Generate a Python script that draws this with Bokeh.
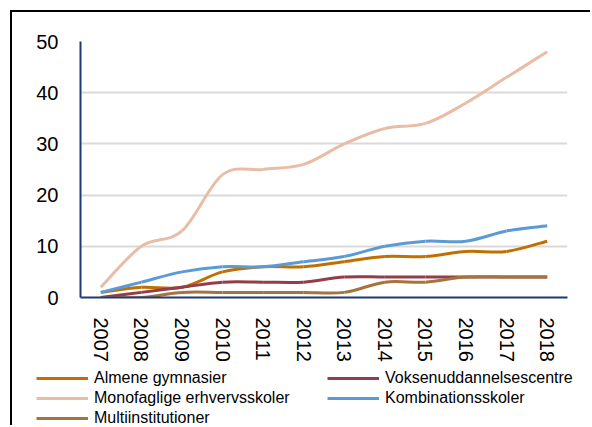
import math
import numpy as np
from bokeh.plotting import figure
from bokeh.models import Range1d, FixedTicker, Legend, LegendItem
from bokeh.embed import file_html
from bokeh.resources import INLINE

# ---- data ----
years = [2007, 2008, 2009, 2010, 2011, 2012, 2013, 2014, 2015, 2016, 2017, 2018]
almene = [1, 2, 2, 5, 6, 6, 7, 8, 8, 9, 9, 11]
voksen = [0, 1, 2, 3, 3, 3, 4, 4, 4, 4, 4, 4]
monofaglige = [2, 10, 13, 24, 25, 26, 30, 33, 34, 38, 43, 48]
kombination = [1, 3, 5, 6, 6, 7, 8, 10, 11, 11, 13, 14]
multi = [0, 0, 1, 1, 1, 1, 1, 3, 3, 4, 4, 4]
y_ticks = [0, 10, 20, 30, 40, 50]

series = [
    ("Almene gymnasier", almene, "#C07000"),
    ("Voksenuddannelsescentre", voksen, "#943C4C"),
    ("Monofaglige erhvervsskoler", monofaglige, "#E8BDA6"),
    ("Kombinationsskoler", kombination, "#5B9BD5"),
    ("Multiinstitutioner", multi, "#A5733D"),
]


def smooth_segments(xs, ys):
    """Bezier control points (Catmull-Rom style, like Excel smoothed lines)."""
    x = np.asarray(xs, float)
    y = np.asarray(ys, float)
    n = len(x) - 1
    xp = np.concatenate([[x[0]], x, [x[-1]]])
    yp = np.concatenate([[y[0]], y, [y[-1]]])
    return dict(
        x0=x[:-1], y0=y[:-1], x1=x[1:], y1=y[1:],
        cx0=x[:-1] + (xp[2:n + 2] - xp[0:n]) / 6.0,
        cy0=y[:-1] + (yp[2:n + 2] - yp[0:n]) / 6.0,
        cx1=x[1:] - (xp[3:n + 3] - xp[1:n + 1]) / 6.0,
        cy1=y[1:] - (yp[3:n + 3] - yp[1:n + 1]) / 6.0,
    )


BORDER = "2px solid black"
font = "Liberation Sans"

# ---------------- main chart ----------------
p = figure(width=580, height=352, output_backend="svg", toolbar_location=None,
           x_range=Range1d(years[0] - 0.5, years[-1] + 0.5),
           y_range=Range1d(0, 50),
           min_border_left=68, min_border_right=25,
           min_border_top=29, min_border_bottom=67)
p.outline_line_color = None
p.background_fill_color = "white"
p.border_fill_color = "white"
p.margin = (10, 0, 0, 10)
p.styles = {"border-left": BORDER, "border-top": BORDER}

p.xgrid.grid_line_color = None
p.ygrid.grid_line_color = "#D9D9D9"
p.ygrid.grid_line_width = 2
p.yaxis.ticker = FixedTicker(ticks=y_ticks)
p.xaxis.ticker = FixedTicker(ticks=years)
p.xaxis.major_label_overrides = {yr: str(yr) for yr in years}
p.xaxis.major_label_orientation = -math.pi / 2

for ax in (p.xaxis, p.yaxis):
    ax.axis_line_color = "#1F3A73"
    ax.axis_line_width = 2
    ax.major_tick_line_color = None
    ax.minor_tick_line_color = None
    ax.major_label_text_font = font
    ax.major_label_text_font_size = "20px"
    ax.major_label_text_color = "#000000"
p.yaxis.major_label_standoff = 16
p.xaxis.major_label_standoff = 14

for name, vals, color in series:
    p.bezier(source=smooth_segments(years, vals), x0="x0", y0="y0", x1="x1", y1="y1",
             cx0="cx0", cy0="cy0", cx1="cx1", cy1="cy1",
             line_color=color, line_width=3)

# ---------------- legend strip (separate root, so frames are not aligned) ----------------
lp = figure(width=580, height=63, output_backend="svg", toolbar_location=None,
            x_range=Range1d(0, 1), y_range=Range1d(0, 1),
            x_axis_type=None, y_axis_type=None,
            min_border_left=0, min_border_right=0, min_border_top=0, min_border_bottom=0)
lp.outline_line_color = None
lp.grid.visible = False
lp.margin = (0, 0, 0, 10)
lp.styles = {"border-left": BORDER}

items = []
for name, vals, color in series:
    # legend keys: the series itself, lying outside this strip's visible x range
    key = lp.line(x=years, y=vals, line_color=color, line_width=3)
    items.append(LegendItem(label=name, renderers=[key]))

lg = Legend(items=items, orientation="horizontal", ncols=2, location=(24, -3))
lg.padding = 0
lg.margin = 0
lg.spacing = 0
lg.glyph_width = 52
lg.glyph_height = 20
lg.label_height = 20
lg.label_width = 233
lg.label_standoff = 6
lg.border_line_color = None
lg.background_fill_alpha = 0
lg.label_text_font = font
lg.label_text_font_size = "16px"
lg.label_text_color = "#000000"
lp.add_layout(lg, "center")

open("out.html", "w").write(file_html([p, lp], INLINE))
